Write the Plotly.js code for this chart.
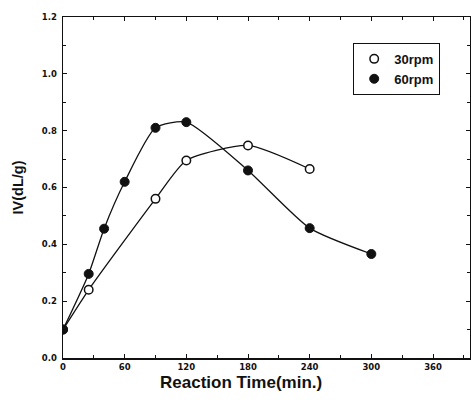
<!DOCTYPE html>
<html>
<head>
<meta charset="utf-8">
<script src="https://cdn.plot.ly/plotly-3.0.1.min.js"></script>
<style>html,body{margin:0;padding:0;background:#fff;}</style>
</head>
<body>
<div id="chart" style="width:471px;height:400px;"></div>
<script>
const time30 = [0, 25, 90, 120, 180, 240];
const iv30 = [0.10, 0.24, 0.56, 0.695, 0.748, 0.665];
const time60 = [0, 25, 40, 60, 90, 120, 180, 240, 300];
const iv60 = [0.10, 0.296, 0.455, 0.62, 0.81, 0.83, 0.66, 0.457, 0.366];
const xTicks = [0, 60, 120, 180, 240, 300, 360];
const yTicks = [0.0, 0.2, 0.4, 0.6, 0.8, 1.0, 1.2];
const seriesNames = ['30rpm', '60rpm'];
const xTitle = 'Reaction Time(min.)';
const yTitle = 'IV(dL/g)';

const font = {family: 'Liberation Sans, Arial, sans-serif', color: '#111'};
const tickFont = {family: 'DejaVu Sans, sans-serif', color: '#111', size: 8.5, weight: 'bold'};
const traces = [
  {x: time30, y: iv30, mode: 'lines', line: {color: '#111', width: 1.3, shape: 'spline', smoothing: 0.6}, showlegend: false, hoverinfo: 'skip'},
  {x: time60, y: iv60, mode: 'lines', line: {color: '#111', width: 1.3, shape: 'spline', smoothing: 0.6}, showlegend: false, hoverinfo: 'skip'},
  {x: time30, y: iv30, mode: 'markers', name: seriesNames[0], marker: {symbol: 'circle', size: 8.5, color: '#fff', line: {color: '#111', width: 1.5}}},
  {x: time60, y: iv60, mode: 'markers', name: seriesNames[1], marker: {symbol: 'circle', size: 9, color: '#111', line: {color: '#111', width: 1}}}
];
const axisCommon = {
  showline: true, linecolor: '#111', linewidth: 1.5, mirror: 'ticks',
  ticks: 'inside', ticklen: 4, tickcolor: '#111', tickwidth: 1,
  showgrid: false, zeroline: false,
  tickfont: tickFont
};
const layout = {
  width: 471, height: 400,
  margin: {l: 63, r: 1, t: 17, b: 42},
  paper_bgcolor: '#fff', plot_bgcolor: '#fff',
  xaxis: Object.assign({}, axisCommon, {
    range: [0, 396], tickmode: 'array', tickvals: xTicks, ticktext: xTicks.map(String),
    minor: {dtick: 30, ticks: 'inside', ticklen: 3, tickcolor: '#111'}
  }),
  yaxis: Object.assign({}, axisCommon, {
    range: [0, 1.2], tickmode: 'array', tickvals: yTicks, ticktext: yTicks.map(v => v.toFixed(1)),
    minor: {dtick: 0.1, ticks: 'inside', ticklen: 3, tickcolor: '#111'},
    ticklabelstandoff: 3,
    title: {text: yTitle, font: Object.assign({}, font, {size: 14.5, weight: 'bold'}), standoff: 14}
  }),
  annotations: [
    {text: xTitle, xref: 'paper', yref: 'paper', x: 0.437, y: -0.073, xanchor: 'center', yanchor: 'middle',
     showarrow: false, font: Object.assign({}, font, {size: 17, weight: 'bold'})}
  ],
  legend: {
    x: 0.713, y: 0.924, xanchor: 'left', yanchor: 'top',
    bordercolor: '#111', borderwidth: 1, bgcolor: '#fff',
    font: Object.assign({}, font, {size: 13, weight: 'bold'}),
    itemwidth: 30, tracegroupgap: 4
  }
};
Plotly.newPlot('chart', traces, layout, {displayModeBar: false, staticPlot: true});
</script>
</body>
</html>
